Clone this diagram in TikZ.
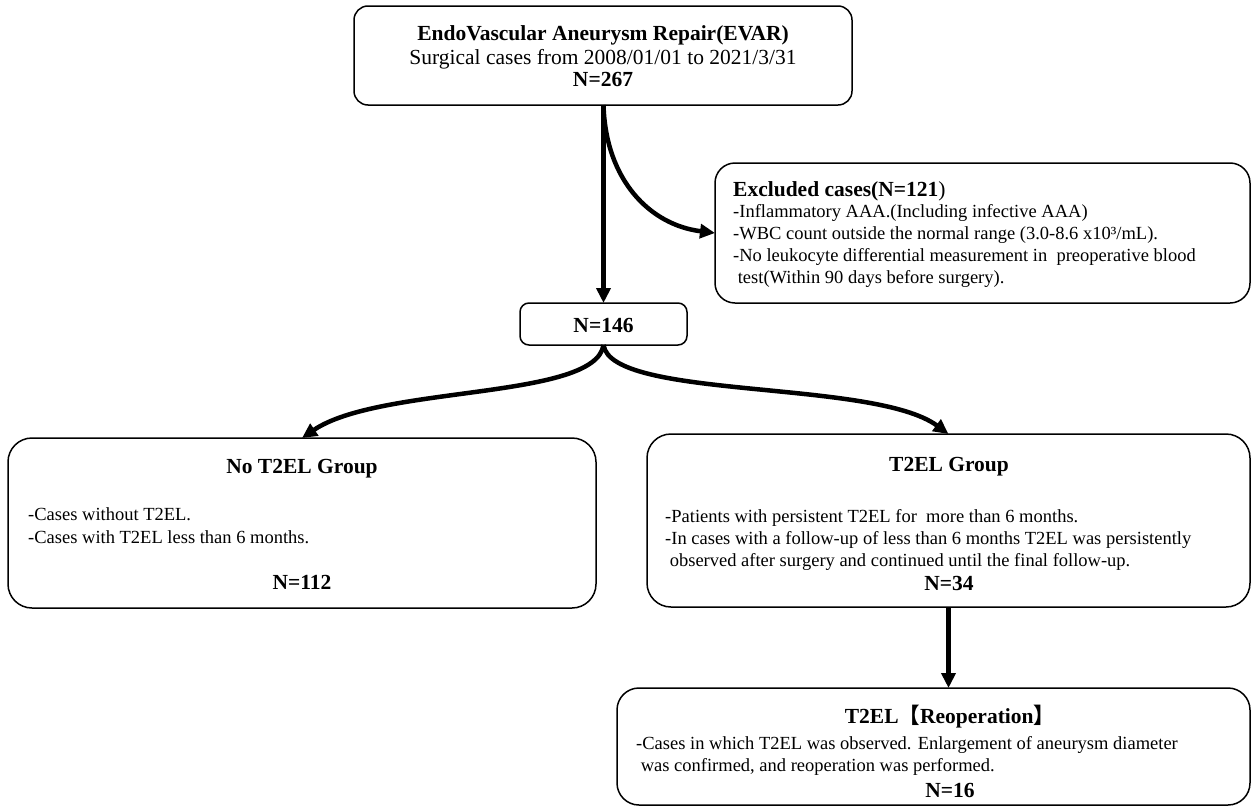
\documentclass[tikz,border=0pt]{standalone}
\usepackage{fontspec}
\setmainfont{Liberation Serif}
\newfontfamily\cjkfont{Noto Sans CJK SC}
\usetikzlibrary{arrows.meta}
\begin{document}
\begin{tikzpicture}[x=1pt,y=-1pt,
  box/.style={draw=black, line width=1.5pt, rounded corners=#1, inner sep=0pt, outer sep=0pt},
  box/.default=20pt,
  head/.style={font=\fontsize{21.5}{23}\selectfont\bfseries, inner sep=0pt, anchor=base},
  reg/.style={font=\fontsize{21.5}{23}\selectfont, inner sep=0pt, anchor=base},
  body/.style={font=\fontsize{18.5}{20.5}\selectfont, inner sep=0pt, anchor=base west},
  conn/.style={line width=4.5pt, -{Triangle[length=15pt,width=14pt]}}
]
\useasboundingbox (0,0) rectangle (1252,806);
% boxes
\node[box=14pt, minimum width=498pt, minimum height=99pt, anchor=north west] (top) at (354,6) {};
\node[box=20pt, minimum width=535pt, minimum height=140pt, anchor=north west] (excl) at (715,163) {};
\node[box=9pt, minimum width=167pt, minimum height=42pt, anchor=north west] (n146) at (520,303) {};
\node[box=24pt, minimum width=588pt, minimum height=170pt, anchor=north west] (notel) at (8,438) {};
\node[box=24pt, minimum width=603pt, minimum height=173pt, anchor=north west] (tel) at (647,434) {};
\node[box=22pt, minimum width=633pt, minimum height=117pt, anchor=north west] (reop) at (617,688) {};
% top text
\node[head] (t1) at (603,40) {EndoVascular Aneurysm Repair(EVAR)};
\node[reg] (t2) at (603,64) {Surgical cases from 2008/01/01 to 2021/3/31};
\node[head] (t3) at (603,86) {N=267};
% excluded text
\node[head, anchor=base west] (e1) at (733,196) {Excluded cases(N=121\mdseries)};
\node[body] (e2) at (733,217) {-Inflammatory AAA.(Including infective AAA)};
\node[body] (e3) at (733,239) {-WBC count outside the normal range (3.0-8.6 x10³/mL).};
\node[body] (e4) at (733,261) {-No leukocyte differential measurement in\ \ preoperative blood};
\node[body] (e5) at (733,283) {\ test(Within 90 days before surgery).};
% N=146
\node[head] (n1) at (603.5,332) {N=146};
% no T2EL
\node[head] (a1) at (302,473) {No T2EL Group};
\node[body] (a2) at (28,520) {-Cases without T2EL.};
\node[body] (a3) at (28,543) {-Cases with T2EL less than 6 months.};
\node[head] (a4) at (302,589) {N=112};
% T2EL
\node[head] (b1) at (949,471) {T2EL Group};
\node[body] (b2) at (665,522) {-Patients with persistent T2EL for\ \ more than 6 months.};
\node[body] (b3) at (665,544) {-In cases with a follow-up of less than 6 months T2EL was persistently};
\node[body] (b4) at (665,566) {\ observed after surgery and continued until the final follow-up.};
\node[head] (b5) at (949,590) {N=34};
% reoperation
\node[head] (c1) at (950,723) {T2EL{\cjkfont 【}Reoperation{\cjkfont 】}};
\node[body] (c2) at (636,749) {-Cases in which T2EL was observed. Enlargement of aneurysm diameter};
\node[body] (c3) at (636,771) {\ was confirmed, and reoperation was performed.};
\node[head] (c4) at (950,797) {N=16};
% connectors
\draw[conn] (top.south -| n146) -- (n146.north);
\draw[conn] (top.south -| n146) .. controls +(2,75) and +(-65,-8) .. (excl.west);
\draw[conn] (n146.south) .. controls +(-8,55) and +(78,-53) .. (notel.north);
\draw[conn] (n146.south) .. controls +(8,55) and +(-75,-55) .. (tel.north);
\draw[conn] (tel.south) -- (tel.south |- reop.north);
\end{tikzpicture}
\end{document}
